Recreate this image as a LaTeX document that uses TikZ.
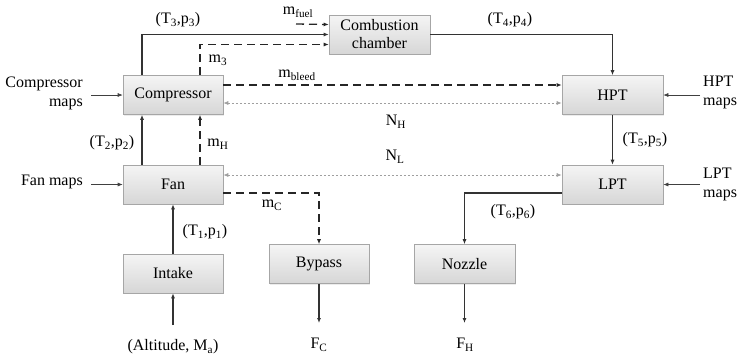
\documentclass[tikz,border=0pt]{standalone}
\usepackage{fontspec}
\setmainfont{Liberation Serif}
\usetikzlibrary{arrows.meta,shadows}
\begin{document}
\begin{tikzpicture}[x=1pt,y=-1pt,
  font=\fontsize{16}{19}\selectfont,
  block/.style={draw=gray!70, line width=0.6pt, top color=gray!8, bottom color=gray!32,
    minimum width=100pt, minimum height=39pt, inner sep=0pt, align=center,
    drop shadow={opacity=0.15, shadow xshift=1pt, shadow yshift=-1pt}},
  tip/.style={-{Latex[length=5pt,width=4pt]}},
  flow/.style={tip, draw=black!80, line width=1.1pt},
  mass/.style={tip, draw=black!85, line width=1.3pt, dash pattern=on 8pt off 5pt},
  speed/.style={{Latex[length=5pt,width=4pt]}-{Latex[length=5pt,width=4pt]}, draw=gray!75, line width=0.7pt, dash pattern=on 2pt off 2pt},
  maparrow/.style={tip, draw=black!75, line width=0.6pt},
  lbl/.style={inner sep=0pt}
]
\useasboundingbox (0,0) rectangle (738,360);

% blocks
\node[block] (comp) at (173,95) {Compressor};
\node[block] (fan) at (173,184.5) {Fan};
\node[block] (intake) at (173,273.5) {Intake};
\node[block] (bypass) at (319,264) {Bypass};
\node[block, minimum width=101pt] (nozzle) at (464.5,264) {Nozzle};
\node[block, minimum width=101pt] (lpt) at (612.5,184.5) {LPT};
\node[block, minimum width=101pt] (hpt) at (612.5,95) {HPT};
\node[block, minimum width=101pt, font=\fontsize{16}{18}\selectfont] (cc) at (379.5,34.5) {Combustion\\chamber};

% free ends
\coordinate (fuel) at (296,24);
\coordinate (cmap) at (91,95);
\coordinate (fmap) at (91,184.5);
\coordinate (hmap) at (700,95);
\coordinate (lmap) at (700,184.5);
\coordinate (alt) at (173,325);
\coordinate (fcend) at (319,323);
\coordinate (fhend) at (464.5,323);

% flows
\draw[flow] ([xshift=-31pt]comp.north) |- (cc.west);
\draw[mass] ([xshift=27pt]comp.north) |- ([yshift=-10pt]cc.west);
\draw[mass] (fuel) -- ([yshift=10pt]cc.west);
\draw[flow] (cc.east) -| (hpt.north);
\draw[mass] ([yshift=10pt]comp.east) -- ([yshift=10pt]hpt.west);
\draw[speed] ([yshift=-8pt]comp.east) -- ([yshift=-8pt]hpt.west);
\draw[flow] (hpt.south) -- (lpt.north);
\draw[flow] ([xshift=-31pt]fan.north) -- ([xshift=-31pt]comp.south);
\draw[mass] ([xshift=27pt]fan.north) -- ([xshift=27pt]comp.south);
\draw[speed] ([yshift=9.5pt]fan.east) -- ([yshift=9.5pt]lpt.west);
\draw[mass] ([yshift=-8.5pt]fan.east) -| (bypass.north);
\draw[flow] (intake.north) -- (fan.south);
\draw[flow] (alt) -- (intake.south);
\draw[flow] (bypass.south) -- (fcend);
\draw[flow] ([yshift=-8.5pt]lpt.west) -| (nozzle.north);
\draw[flow] (nozzle.south) -- (fhend);

% map inputs
\draw[maparrow] (cmap) -- (comp.west);
\draw[maparrow] (fmap) -- (fan.west);
\draw[maparrow] (hmap) -- (hpt.east);
\draw[maparrow] (lmap) -- (lpt.east);

% labels
\node[lbl] (l3) at (178,20) {(T\textsubscript{3},p\textsubscript{3})};
\node[lbl] (lfuel) at (298,12) {m\textsubscript{fuel}};
\node[lbl] (lm3) at (218,60) {m\textsubscript{3}};
\node[lbl] (lbleed) at (297,75) {m\textsubscript{bleed}};
\node[lbl] (l4) at (510,20) {(T\textsubscript{4},p\textsubscript{4})};
\node[lbl] (lnh) at (396,122) {N\textsubscript{H}};
\node[lbl] (l5) at (645,140) {(T\textsubscript{5},p\textsubscript{5})};
\node[lbl] (l2) at (112,143) {(T\textsubscript{2},p\textsubscript{2})};
\node[lbl] (lmh) at (218,144) {m\textsubscript{H}};
\node[lbl] (lnl) at (395,157) {N\textsubscript{L}};
\node[lbl] (lmc) at (272,205) {m\textsubscript{C}};
\node[lbl] (l1) at (205,232) {(T\textsubscript{1},p\textsubscript{1})};
\node[lbl] (l6) at (513,212) {(T\textsubscript{6},p\textsubscript{6})};
\node[lbl] (lalt) at (173,347) {(Altitude, M\textsubscript{a})};
\node[lbl] (lfc) at (319,345) {F\textsubscript{C}};
\node[lbl] (lfh) at (465,345) {F\textsubscript{H}};
\node[lbl, anchor=east, align=right] (lcm) at (83,93) {Compressor\\maps};
\node[lbl, anchor=east] (lfm) at (83,182) {Fan maps};
\node[lbl, anchor=west, align=left] (lhm) at (703,92) {HPT\\maps};
\node[lbl, anchor=west, align=left] (llm) at (703,184) {LPT\\maps};
\end{tikzpicture}
\end{document}
